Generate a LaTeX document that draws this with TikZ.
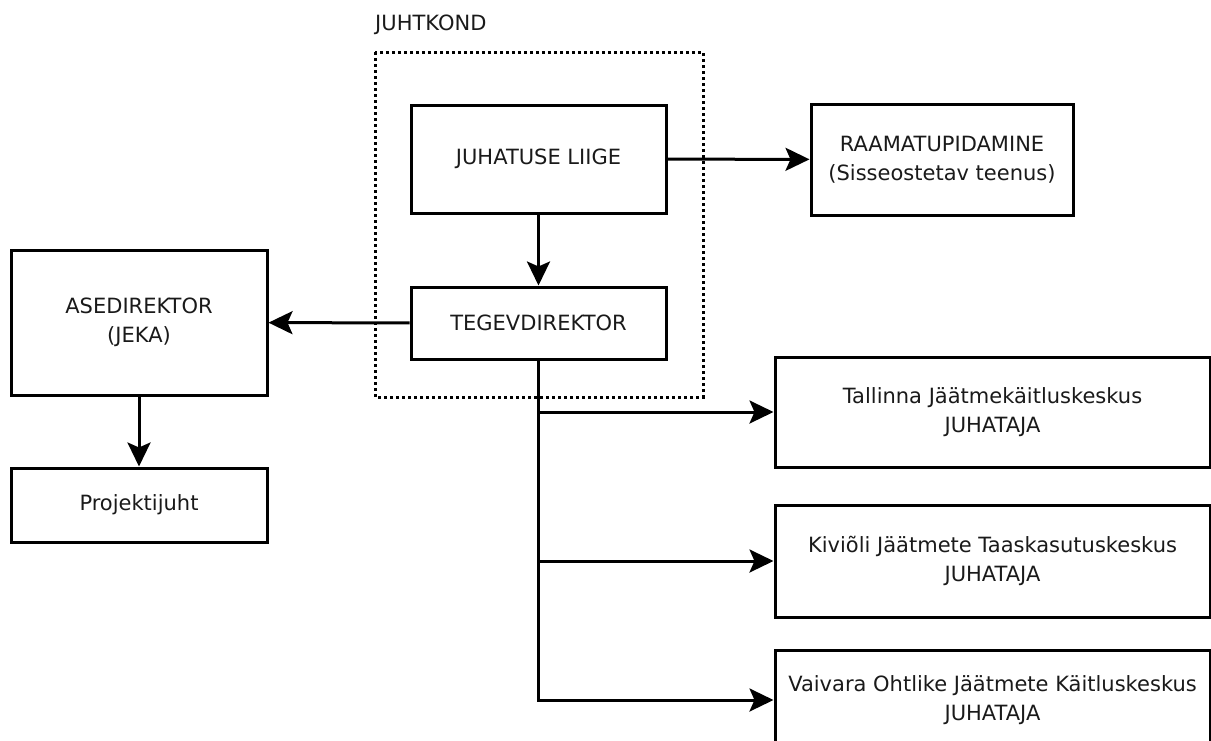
\documentclass[tikz,border=0pt]{standalone}
\usepackage{fontspec}
\setmainfont{DejaVu Sans}
\usetikzlibrary{arrows.meta}
\definecolor{ink}{HTML}{1A1A1A}
\tikzset{
  box/.style={draw=black, line width=3pt, rectangle, align=center, text=ink,
    font=\fontsize{21}{29}\selectfont, inner sep=0pt},
  conn/.style={draw=black, line width=3pt, -{Stealth[length=24pt,width=23pt,inset=5pt]}},
}
\begin{document}
\begin{tikzpicture}[x=1pt,y=-1pt]
\useasboundingbox (0,0) rectangle (1211,740);
\fill[white] (0,0) rectangle (1211,740);
% group frame
\draw[line width=3pt, dash pattern=on 3pt off 3pt] (375,52) rectangle (703,397);
\node[anchor=west, text=ink, font=\fontsize{21}{24}\selectfont, inner sep=0pt] (jk) at (375,25) {JUHTKOND};
% nodes
\node[box, minimum width=255pt, minimum height=108pt] (jl) at (538.5,159) {JUHATUSE LIIGE};
\node[box, minimum width=255pt, minimum height=72pt] (teg) at (538.5,323) {TEGEVDIREKTOR};
\node[box, minimum width=256pt, minimum height=145pt] (ase) at (139,322.5) {ASEDIREKTOR\\(JEKA)};
\node[box, minimum width=256pt, minimum height=74pt] (proj) at (139,505) {Projektijuht};
\node[box, minimum width=262pt, minimum height=111pt] (raam) at (942,159.5) {RAAMATUPIDAMINE\\(Sisseostetav teenus)};
\node[box, minimum width=435pt, minimum height=110pt] (tal) at (992.5,412) {Tallinna Jäätmekäitluskeskus\\JUHATAJA};
\node[box, minimum width=435pt, minimum height=112pt] (kiv) at (992.5,561) {Kiviõli Jäätmete Taaskasutuskeskus\\JUHATAJA};
\node[box, minimum width=435pt, minimum height=100pt] (vai) at (992.5,700) {Vaivara Ohtlike Jäätmete Käitluskeskus\\JUHATAJA};
% connectors
\draw[conn] (jl) -- (teg);
\draw[conn] (jl) -- (raam);
\draw[conn] (teg) -- (ase);
\draw[conn] (ase) -- (proj);
\draw[conn] (teg.south) |- (tal.west);
\draw[conn] (teg.south) |- (kiv.west);
\draw[conn] (teg.south) |- (vai.west);
\end{tikzpicture}
\end{document}
